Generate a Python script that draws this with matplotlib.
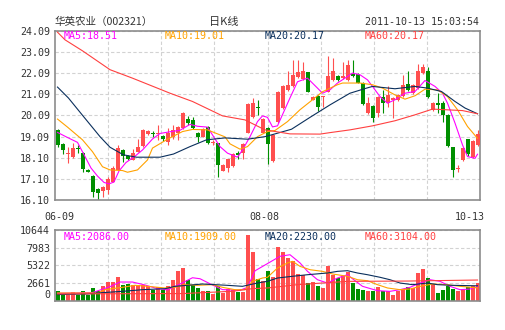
import numpy as np
import matplotlib
matplotlib.use("Agg")
import matplotlib.pyplot as plt

plt.rcParams['font.family'] = ['DejaVu Sans Mono', 'Noto Sans CJK SC']

# header texts
stock_name = "华英农业（002321）"
chart_kind = "日K线"
stamp = "2011-10-13 15:03:54"
date_labels = ["06-09", "08-08", "10-13"]

# daily candles, 2011-06-09 .. 2011-10-13
opens = [19.41, 18.75, 18.27, 18.13, 18.53, 18.34, 17.52, 17.23, 16.62, 16.54,
         16.57, 16.97, 17.52, 18.46, 18.18, 17.99, 18.38, 18.65, 19.22, 19.24,
         19.20, 19.13, 18.86, 19.06, 19.25, 19.49, 19.91, 19.88, 19.28, 19.09,
         19.56, 18.79, 18.78, 17.49, 17.60, 17.71, 18.34, 18.31, 19.28, 20.01,
         20.46, 19.28, 19.49, 17.96, 19.80, 20.44, 21.30, 21.49, 21.90, 21.81,
         22.12, 20.83, 21.02, 20.94, 21.22, 21.74, 21.93, 21.85, 21.74, 22.06,
         22.06, 21.62, 20.20, 20.54, 20.20, 20.98, 20.67, 20.80, 20.83, 21.02,
         21.58, 21.15, 21.38, 22.09, 22.17, 20.36, 20.67, 20.70, 20.12, 18.59,
         17.57, 17.99, 18.97, 18.15, 18.70]
closes = [18.70, 18.46, 18.34, 18.56, 18.49, 17.55, 17.44, 16.49, 16.45, 16.70,
          17.09, 17.61, 18.56, 18.18, 18.05, 18.34, 18.62, 19.41, 19.36, 19.20,
          19.25, 18.97, 19.25, 19.41, 19.56, 20.20, 19.75, 19.49, 19.06, 19.44,
          18.77, 18.82, 17.75, 17.75, 18.02, 18.27, 18.23, 18.75, 20.64, 20.70,
          20.42, 19.91, 18.75, 19.17, 21.22, 21.49, 21.54, 22.01, 22.12, 22.17,
          21.22, 20.98, 20.48, 20.98, 21.93, 22.17, 21.74, 21.93, 22.48, 21.93,
          21.62, 20.64, 20.70, 19.96, 20.98, 20.67, 21.06, 20.90, 21.06, 21.54,
          21.30, 21.54, 22.17, 22.40, 20.96, 20.67, 20.59, 20.12, 18.65, 17.52,
          17.63, 18.54, 18.27, 18.90, 19.22]
highs = [19.45, 18.80, 18.62, 18.81, 18.70, 18.36, 17.56, 17.26, 16.66, 16.74,
         17.20, 17.70, 18.70, 18.52, 18.22, 18.52, 19.00, 19.43, 19.40, 19.35,
         19.65, 19.17, 19.50, 19.65, 19.60, 20.27, 20.05, 20.03, 19.30, 19.48,
         19.60, 18.95, 18.80, 17.80, 18.05, 18.30, 18.40, 18.78, 20.66, 20.90,
         20.80, 19.95, 19.55, 19.20, 21.25, 21.52, 22.21, 22.72, 22.72, 22.60,
         22.15, 21.00, 21.05, 21.00, 22.91, 22.80, 21.98, 22.60, 22.72, 22.70,
         22.10, 21.66, 20.98, 20.58, 21.00, 21.30, 21.50, 20.95, 21.10, 22.00,
         22.20, 21.58, 22.53, 22.53, 22.40, 20.72, 21.15, 20.75, 20.15, 18.62,
         17.75, 18.58, 19.00, 18.95, 19.41]
lows = [18.62, 18.27, 17.86, 18.10, 18.30, 17.43, 17.40, 16.23, 16.10, 16.22,
        16.40, 16.95, 17.50, 17.90, 18.00, 17.97, 18.36, 18.60, 19.15, 19.05,
        18.94, 18.90, 18.70, 19.00, 18.95, 19.45, 19.65, 19.45, 18.85, 19.05,
        18.75, 18.70, 17.20, 17.45, 17.40, 17.68, 18.05, 18.05, 19.25, 19.95,
        20.10, 19.25, 17.80, 17.90, 19.75, 20.40, 21.25, 21.45, 21.85, 21.78,
        21.20, 20.80, 20.28, 20.51, 21.20, 21.70, 21.70, 21.82, 21.70, 21.90,
        21.60, 20.60, 20.18, 19.80, 20.00, 20.20, 20.50, 19.96, 20.78, 20.98,
        21.25, 21.10, 21.35, 22.05, 20.90, 20.30, 20.20, 19.80, 18.60, 17.20,
        17.40, 17.95, 18.20, 18.10, 18.65]
volumes = [1500, 790, 880, 1240, 880, 1390, 880, 1900, 1390, 2150,
           2800, 2800, 3560, 2300, 2500, 2400, 2400, 2300, 2150, 1640,
           2000, 1640, 2150, 3060, 4520, 4930, 3150, 2300, 1900, 1390,
           1390, 1030, 2150, 1140, 1790, 1640, 1290, 1290, 9880, 7350,
           3300, 2910, 4520, 3520, 8110, 7350, 6440, 5940, 4020, 3820,
           2650, 2760, 2150, 1900, 5180, 3910, 3410, 3670, 4270, 2650,
           1790, 1640, 1490, 1490, 2000, 1390, 1390, 880, 1490, 1740,
           2000, 1900, 4170, 4780, 3410, 2500, 1140, 1640, 2150, 1790,
           1490, 1640, 2100, 2200, 2700]

# moving average lines as drawn (candle index, value)
ma5_x = [0, 2, 4, 5.5, 6.7, 8, 9.3, 10.3, 11.3, 12.3, 13.7, 15.3, 17, 19, 20.5, 22.5, 24.5, 26.5,
         28, 30, 31, 32.5, 34, 36, 37, 38.5, 40, 41, 42, 43, 44, 46.5, 48, 50, 52, 53, 54.5, 56,
         58, 59, 60.5, 62, 63, 64.5, 66, 67.5, 69.5, 71.5, 73.5, 75.5, 77, 78, 79.5, 81, 82, 83.5, 84]
ma5_y = [19.29, 19.05, 18.82, 18.15, 17.61, 17.23, 16.93, 16.86, 16.95, 17.47, 17.87, 18.13, 18.46,
         18.98, 19.24, 19.32, 19.39, 19.67, 19.58, 19.54, 19.17, 18.62, 18.31, 18.12, 18.46, 19.09,
         19.80, 20.07, 20.00, 19.55, 19.60, 20.92, 21.68, 21.85, 21.38, 21.14, 21.30, 21.62, 21.93,
         22.09, 22.01, 21.77, 21.46, 20.98, 20.67, 20.83, 21.14, 21.22, 21.74, 21.46, 21.14, 20.67,
         19.73, 18.70, 18.15, 18.07, 18.26]
ma10_x = [0, 2, 5, 7, 9, 10.5, 13, 14, 16, 18, 19, 22, 25, 27, 30, 32, 33.5, 34.5, 36.5, 38, 40,
          42, 43.5, 46, 48.5, 51, 53, 56, 57, 60.5, 63, 65, 67.5, 69.5, 71.5, 73.5, 76, 78, 80, 82, 84]
ma10_y = [19.92, 19.54, 18.94, 18.38, 17.67, 17.52, 17.49, 17.41, 17.52, 17.99, 18.55, 18.97, 19.33,
          19.43, 19.41, 19.22, 19.08, 18.75, 18.50, 18.62, 19.09, 19.33, 19.38, 19.80, 20.36, 20.83,
          21.21, 21.54, 21.62, 21.62, 21.54, 21.38, 21.06, 20.86, 21.02, 21.33, 21.30, 20.98, 20.36,
          19.57, 19.01]
ma20_x = [0, 2.2, 5.2, 8.5, 10.5, 13.2, 15.8, 20.5, 23.2, 26.5, 29.8, 33.5, 38, 41.5, 43.5, 46.8,
          50.5, 54.5, 58.5, 61.8, 63, 67.5, 71.5, 74, 76.8, 79.5, 81.5, 84]
ma20_y = [21.43, 20.91, 20.04, 19.09, 18.59, 18.23, 18.12, 18.12, 18.27, 18.62, 18.94, 19.03, 18.97,
          19.09, 19.22, 19.44, 20.00, 20.59, 21.14, 21.38, 21.46, 21.35, 21.46, 21.38, 21.22, 20.75,
          20.44, 20.17]
ma60_x = [0, 1.5, 5, 10.5, 15, 22.5, 27, 33, 37.5, 41.5, 46.5, 52.5, 54.5, 58.5, 63, 67.5, 71.5, 75, 81, 84]
ma60_y = [24.02, 23.66, 23.14, 22.25, 21.85, 21.14, 20.75, 20.07, 19.88, 19.41, 19.22, 19.21, 19.28,
          19.41, 19.60, 19.84, 20.12, 20.39, 20.32, 20.17]

vma5_x = [0, 7, 10.5, 12.5, 15, 17.5, 19.5, 22, 24, 27, 28.5, 31, 33, 36.5, 38, 39.5, 42, 44.5, 46.5,
          48.5, 50, 52, 54, 56, 58, 59, 61, 64, 66.5, 68.5, 70.5, 72.5, 74.5, 76.5, 78.5, 80.5, 82.5, 84]
vma5_y = [1100, 1200, 2100, 2800, 2800, 2350, 1900, 1600, 2300, 3450, 3300, 2350, 1650, 1550, 2000,
          4500, 5600, 6700, 6940, 5700, 4420, 3150, 2650, 3410, 3910, 3300, 2150, 1490, 1390, 1640,
          2000, 2650, 3150, 2910, 2150, 1640, 1740, 2086]
vma10_x = [0, 8, 9.5, 13, 15.5, 18, 21.5, 23.5, 25.5, 28, 31, 33, 35.5, 37.5, 39, 41, 42, 44, 46, 47,
           48.5, 50.5, 53, 55, 58, 60, 62, 64, 66, 68.5, 70.5, 72.5, 75, 78, 80.5, 84]
vma10_y = [1140, 1140, 1640, 2000, 2300, 2150, 1900, 2000, 2400, 2300, 2400, 2000, 1640, 1640, 2910,
           3410, 3520, 4930, 5690, 5940, 5180, 4670, 4420, 4020, 3670, 3150, 3000, 2400, 1900, 1640,
           1740, 2150, 2500, 2400, 2150, 1909]
vma20_x = [0, 6, 8, 13, 17, 21.5, 23.5, 26, 29, 31.5, 34, 37, 40, 42, 44, 47, 50, 54, 56, 58, 60, 62,
           64.5, 66.5, 68.5, 71, 74, 76, 79, 84]
vma20_y = [900, 990, 1140, 1390, 1640, 1790, 2150, 2300, 2500, 2400, 2300, 2150, 2650, 2910, 3410,
           3670, 3910, 4170, 4420, 4520, 4170, 3910, 3520, 3150, 2650, 2400, 2650, 2400, 2300, 2230]
vma60_x = [0, 25, 35, 39, 42, 48, 58, 70, 84]
vma60_y = [1000, 1050, 1400, 1800, 1900, 2400, 2900, 2950, 3104]

ma_names = ["MA5", "MA10", "MA20", "MA60"]
ma_last = [18.51, 19.01, 20.17, 20.17]
vma_last = [2086.00, 1909.00, 2230.00, 3104.00]

price_ticks = [16.10, 17.10, 18.10, 19.09, 20.09, 21.09, 22.09, 23.09, 24.09]
vol_ticks = [0, 2661, 5322, 7983, 10644]

# styles
RED = '#ff4f4f'
GREEN = '#008f00'
ma_colors = ['#ff00ff', '#ffa200', '#0a2f5c', '#ff4040']
FRAME = '#8c8c8c'
GRID = '#d2d2d2'
TXT = '#333333'

W, H = 505, 330
fig = plt.figure(figsize=(W / 100, H / 100), dpi=100)
fig.patch.set_facecolor('white')
ax = fig.add_axes([55 / W, (H - 200) / H, 425 / W, 169.3 / H])
axv = fig.add_axes([55 / W, (H - 300.5) / H, 425 / W, 70.2 / H])

n = len(closes)
idx = np.arange(n)
o = np.array(opens)
c = np.array(closes)
cols = np.where(c >= o, RED, GREEN)

# candles
ax.vlines(idx, lows, highs, colors=cols, linewidth=0.8, zorder=2)
body_lo = np.minimum(o, c)
body_h = np.maximum(np.abs(c - o), 0.05)
ax.bar(idx, body_h, bottom=body_lo, width=0.8, color=cols, linewidth=0, zorder=3)

for xs, ys, col in zip([ma5_x, ma10_x, ma20_x, ma60_x], [ma5_y, ma10_y, ma20_y, ma60_y], ma_colors):
    ax.plot(xs, ys, color=col, linewidth=0.8, zorder=4)

# volume
axv.bar(idx, volumes, width=0.8, color=cols, linewidth=0, zorder=2)
for xs, ys, col in zip([vma5_x, vma10_x, vma20_x, vma60_x], [vma5_y, vma10_y, vma20_y, vma60_y], ma_colors):
    axv.plot(xs, ys, color=col, linewidth=0.8, zorder=4)

grid_x = np.linspace(-0.5, n - 0.5, 9)[1:-1]
for a in (ax, axv):
    a.set_xlim(-0.5, n - 0.5)
    a.set_xticks(grid_x)
    a.set_xticklabels([])
    a.grid(True, linestyle=(0, (3, 2)), color=GRID, linewidth=0.8, zorder=0)
    a.set_axisbelow(True)
    a.tick_params(length=0, pad=3.5, labelsize=7.2, labelcolor=TXT)
    for sp in a.spines.values():
        sp.set_color(FRAME)
        sp.set_linewidth(1.2)

ax.set_ylim(price_ticks[0], price_ticks[-1])
ax.set_yticks(price_ticks)
ax.set_yticklabels([f"{t:.2f}" for t in price_ticks])

axv.set_ylim(vol_ticks[0], vol_ticks[-1])
axv.set_yticks(vol_ticks)
axv.set_yticklabels([str(t) for t in vol_ticks])
axv.get_yticklabels()[0].set_va('bottom')

# legends inside panels
leg_px = [64, 165, 265, 365]
for name, v, vv, col, px in zip(ma_names, ma_last, vma_last, ma_colors, leg_px):
    ax.text((px - 55) / 425, 0.966, f"{name}:{v:.2f}", color=col, fontsize=7.2,
            transform=ax.transAxes, va='center', ha='left', zorder=6)
    axv.text((px - 55) / 425, 0.90, f"{name}:{vv:.2f}", color=col, fontsize=7.2,
             transform=axv.transAxes, va='center', ha='left', zorder=6)

# header
fig.text(55 / W, 1 - 22 / H, stock_name, family=['Noto Sans CJK SC'], fontsize=7.6,
         color=TXT, va='center', ha='left')
fig.text(224 / W, 1 - 22 / H, chart_kind, family=['Noto Sans CJK SC'], fontsize=8,
         color=TXT, va='center', ha='center')
fig.text(479 / W, 1 - 22 / H, stamp, fontsize=7.2, color=TXT, va='center', ha='right')

# date labels under the price panel
date_px = [59.5, 264.5, 469.5]
for lab, px in zip(date_labels, date_px):
    fig.text(px / W, 1 - 217.5 / H, lab, fontsize=7.2, color=TXT, va='center', ha='center')

fig.savefig("out.png", dpi=100, facecolor='white')
